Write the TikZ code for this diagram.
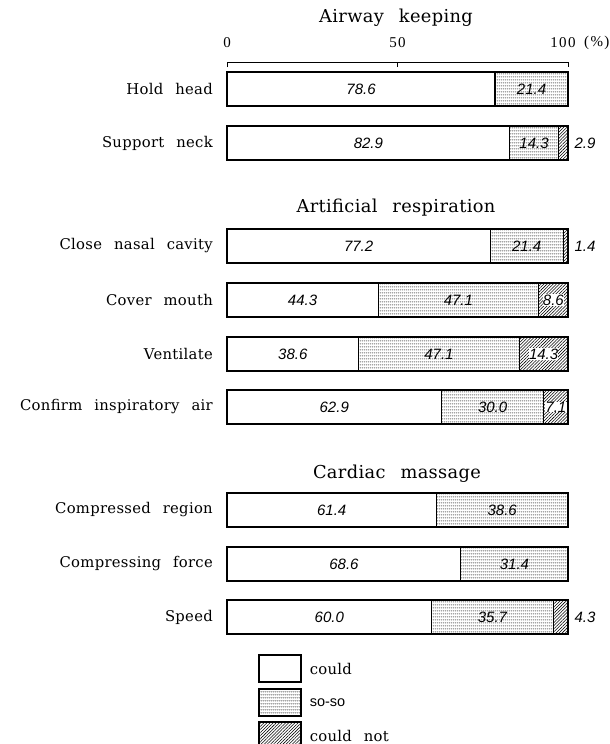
\documentclass[tikz,border=0pt]{standalone}
\usepackage{fontspec}
\setmainfont{Liberation Serif}
\newfontfamily\lblfont{DejaVu Serif}[LetterSpace=2]
\newfontfamily\tickfont{Liberation Serif}[LetterSpace=9]
\newfontfamily\numfont{Liberation Sans}
\usetikzlibrary{patterns.meta}

\newcommand\widespaces[1]{\spaceskip=#1\relax}

% fine row-of-dots fill for the middle ("so-so") segment
\tikzdeclarepattern{
  name=sodots,
  type=uncolored,
  bounding box={(0,0) and (2.2pt,3pt)},
  tile size={(2.2pt,3pt)},
  code={\fill (1.1pt,1.5pt) circle (0.7pt);}
}

\tikzset{
  barline/.style={draw=black, line width=1.1pt},
  couldseg/.style={barline, fill=white},
  sososeg/.style={barline, pattern=sodots, pattern color=black},
  notseg/.style={barline, pattern={Lines[angle=45,distance=2.2pt,line width=0.55pt]}, pattern color=black},
  rowlabel/.style={anchor=east, inner sep=0pt, font=\lblfont\fontsize{14.8}{18}\selectfont\widespaces{12pt}},
  grouptitle/.style={inner sep=0pt, font=\lblfont\fontsize{17.8}{22}\selectfont\widespaces{15pt}},
  val/.style={inner sep=0pt, font=\numfont\itshape\fontsize{15}{18}\selectfont},
  ticklbl/.style={inner sep=0pt, font=\tickfont\fontsize{15}{18}\selectfont},
  legtext/.style={anchor=west, inner sep=0pt, font=\lblfont\fontsize{14.8}{18}\selectfont\widespaces{12pt}},
}

\begin{document}
\begin{tikzpicture}[x=1pt, y=-1pt]
\useasboundingbox (0,0) rectangle (610,744);

\def\xo{227}
\def\sx{3.41}
\def\bh{34}

% group titles
\node[grouptitle] (t1) at (396,18) {Airway keeping};
\node[grouptitle] (t2) at (396,208) {Artificial respiration};
\node[grouptitle] (t3) at (397,474) {Cardiac massage};

% percentage scale
\coordinate (ax0) at (227,62);
\coordinate (ax50) at (397.5,62);
\coordinate (ax100) at (568,62);
\draw[line width=0.9pt] ([yshift=-5pt]ax0) -- (ax0) -- (ax100) -- ([yshift=-5pt]ax100);
\draw[line width=0.9pt] (ax50) -- ([yshift=-5pt]ax50);
\node[ticklbl] (l0) at (227,43) {0};
\node[ticklbl] (l50) at (397.5,43) {50};
\node[ticklbl] (l100) at (563,43) {100};
\node[ticklbl, anchor=west] (lpc) at (584,43) {(\%)};

% stacked bars: id / top / label / could / so-so / could not
\foreach \id/\yt/\lab/\a/\b/\c in {
  hold/72/Hold head/78.6/21.4/0,
  neck/126/Support neck/82.9/14.3/2.9,
  nasal/229/Close nasal cavity/77.2/21.4/1.4,
  mouth/283/Cover mouth/44.3/47.1/8.6,
  vent/337/Ventilate/38.6/47.1/14.3,
  conf/390/Confirm inspiratory air/62.9/30.0/7.1,
  region/493/Compressed region/61.4/38.6/0,
  force/547/Compressing force/68.6/31.4/0,
  speed/600/Speed/60.0/35.7/4.3%
}{
  \pgfmathsetmacro\xa{\xo+\sx*\a}
  \pgfmathsetmacro\xb{\xo+\sx*(\a+\b)}
  \pgfmathsetmacro\xe{\xo+\sx*100}
  \pgfmathsetmacro\ym{\yt+\bh/2}
  \pgfmathsetmacro\yb{\yt+\bh}
  \coordinate (\id-s) at (\xo,\yt);
  \coordinate (\id-a) at (\xa,\yb);
  \coordinate (\id-at) at (\xa,\yt);
  \coordinate (\id-b) at (\xb,\yb);
  \coordinate (\id-bt) at (\xb,\yt);
  \coordinate (\id-e) at (\xe,\yb);
  \node[rowlabel] (\id-lab) at (213,\ym) {\lab};
  \draw[couldseg] (\id-s) rectangle (\id-a);
  \node[val] (\id-v1) at ({(\xo+\xa)/2},\ym) {\a};
  \draw[sososeg] (\id-at) rectangle (\id-b);
  \node[val] (\id-v2) at ({(\xa+\xb)/2},\ym) {\b};
  \pgfmathparse{\c>0 ? 1 : 0}
  \ifnum\pgfmathresult=1
    \draw[notseg] (\id-bt) rectangle (\id-e);
    \pgfmathparse{\c>5 ? 1 : 0}
    \ifnum\pgfmathresult=1
      \node[val, fill=white, inner sep=0.2pt] (\id-v3) at ({(\xb+\xe)/2},\ym) {\c};
    \else
      \node[val] (\id-v3) at (585,\ym) {\c};
    \fi
  \fi
}

% legend
\node[couldseg, minimum width=42pt, minimum height=27pt, inner sep=0pt] (k1) at (280,668.5) {};
\node[sososeg, minimum width=42pt, minimum height=27pt, inner sep=0pt] (k2) at (280,702.5) {};
\node[notseg, minimum width=42pt, minimum height=27pt, inner sep=0pt] (k3) at (280,735.5) {};
\node[legtext] (k1t) at ([xshift=8pt]k1.east) {could};
\node[legtext] (k2t) at ([xshift=8pt]k2.east) {\numfont\fontsize{14.5}{17}\selectfont so-so};
\node[legtext] (k3t) at ([xshift=8pt]k3.east) {could not};
\end{tikzpicture}
\end{document}
